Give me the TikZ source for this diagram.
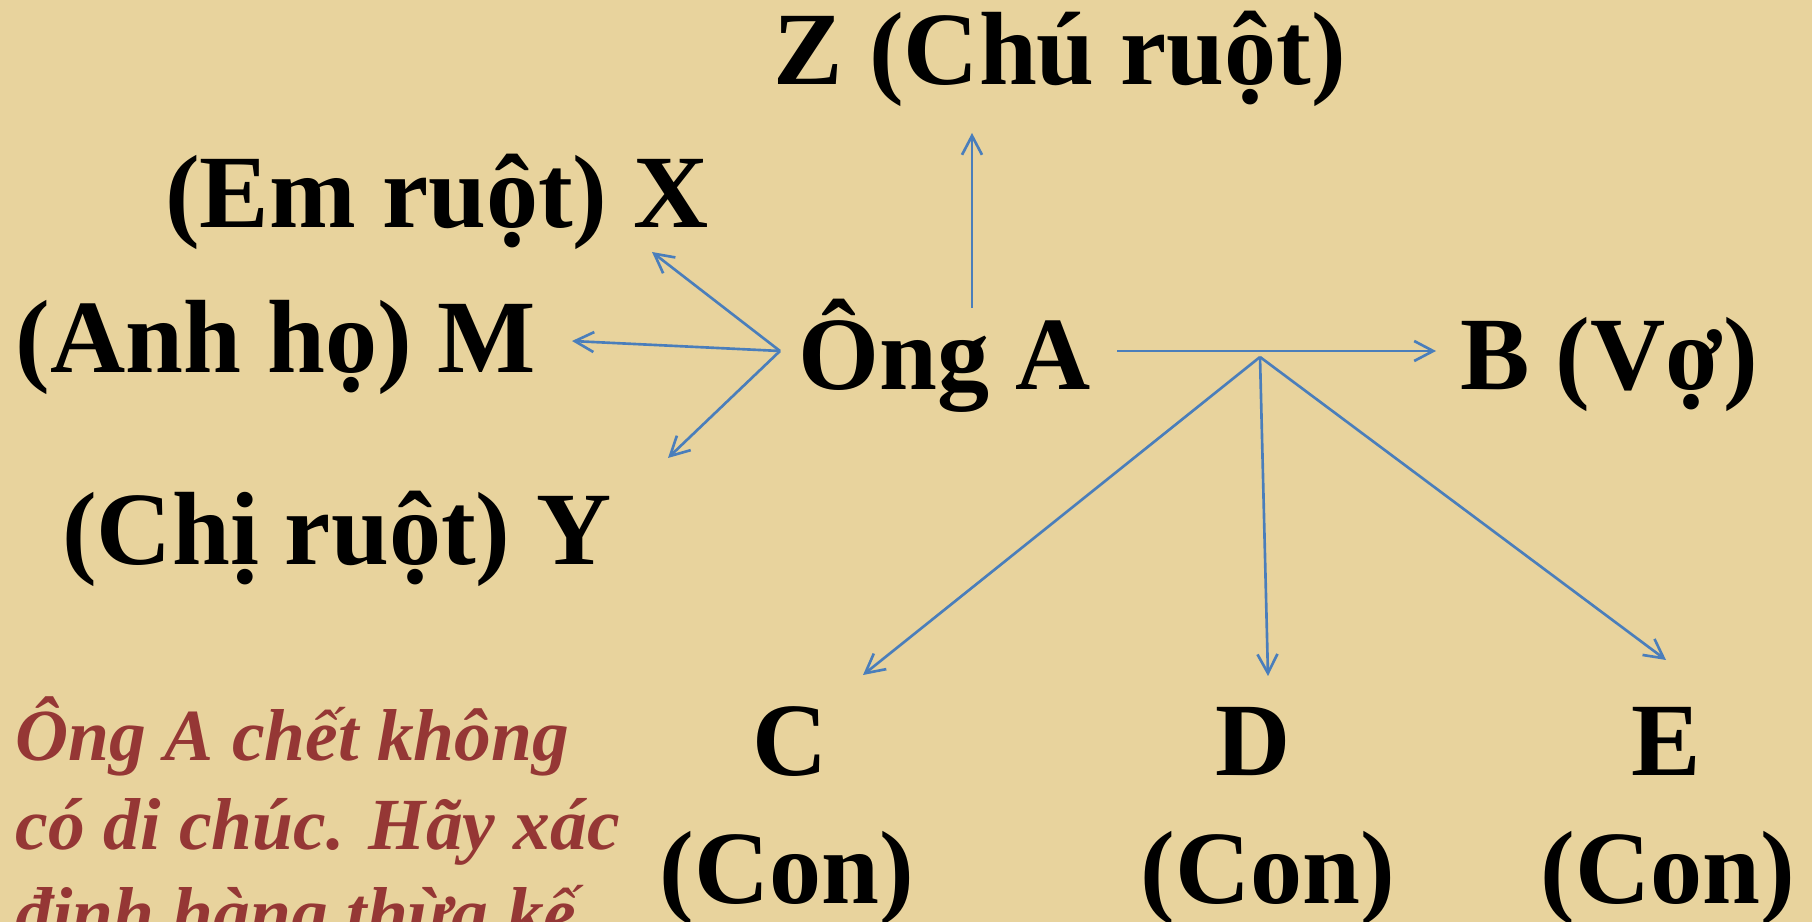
\documentclass[tikz,border=0pt]{standalone}
\usepackage{fontspec}
\setmainfont{Liberation Serif}
\usetikzlibrary{arrows.meta}
\definecolor{parchment}{HTML}{E8D39D}
\definecolor{linkblue}{HTML}{4A7EBB}
\definecolor{notered}{HTML}{953735}
\tikzset{
  kin/.style={inner sep=0pt,anchor=base,font=\fontsize{29.6}{36.4}\selectfont\bfseries},
  arr/.style={linkblue,line width=0.75pt,-{Straight Barb[length=1.9mm,width=2mm]}},
  note/.style={inner sep=0pt,anchor=base west,align=left,text=notered,
    font=\fontsize{20.9}{25.3}\selectfont\bfseries\itshape}
}
\begin{document}
\begin{tikzpicture}[x=0.01cm,y=-0.01cm]
    \useasboundingbox (0,0) rectangle (1812,922);
    \clip (0,0) rectangle (1812,922);
    \fill[parchment] (0,0) rectangle (1812,922);
    % people
    \node[kin] (ongA) at (945,390) {Ông A};
    \node[kin] (chuZ) at (1060,85) {Z (Chú ruột)};
    \node[kin] (emX) at (437,228) {(Em ruột) X};
    \node[kin] (anhM) at (276,373) {(Anh họ) M};
    \node[kin] (chiY) at (337,565) {(Chị ruột) Y};
    \node[kin] (voB) at (1609,390) {B (Vợ)};
    \node[kin] (conC) at (790,775) {C};
    \node[kin] (conD) at (1253,775) {D};
    \node[kin] (conE) at (1666,775) {E};
    \node[kin] (labC) at (787,903) {(Con)};
    \node[kin] (labD) at (1268,903) {(Con)};
    \node[kin] (labE) at (1668,903) {(Con)};
    % base of a multi-line node is its last line
    \node[note] (task) at (15,938) {Ông A chết không\\có di chúc. Hãy xác\\định hàng thừa kế};
    % links
    \coordinate (hubL) at ([shift={(-165,-39)}]ongA.base);
    \coordinate (fork) at (1260,357);
    \draw[arr] (hubL) -- ([shift={(215,24)}]emX.base);
    \draw[arr] (hubL) -- ([shift={(296,-32)}]anhM.base);
    \draw[arr] (hubL) -- ([shift={(331,-107)}]chiY.base);
    \draw[arr] ([shift={(27,-82)}]ongA.base) -- ([shift={(-88,48)}]chuZ.base);
    \draw[arr] ([shift={(172,-39)}]ongA.base) -- ([shift={(-173,-39)}]voB.base);
    \draw[arr] (fork) -- ([shift={(73,-100)}]conC.base);
    \draw[arr] (fork) -- ([shift={(15,-99)}]conD.base);
    \draw[arr] (fork) -- ([shift={(0,-115)}]conE.base);
\end{tikzpicture}
\end{document}
